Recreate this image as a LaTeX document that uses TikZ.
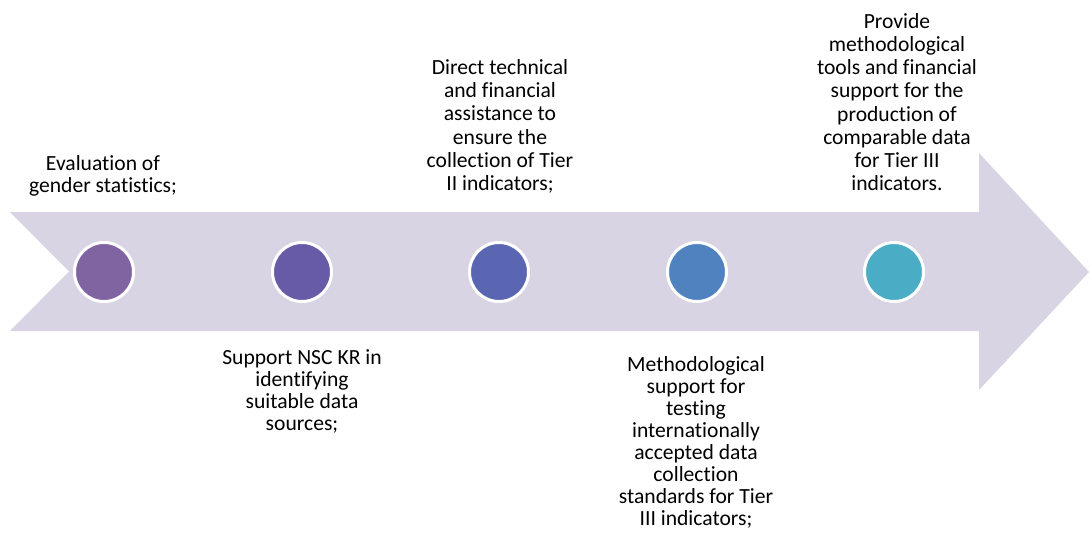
\documentclass[tikz,border=0pt]{standalone}
\usepackage{fontspec}
\setmainfont{Carlito}[Ligatures={NoCommon}]
\definecolor{arrowfill}{HTML}{D8D4E4}
\definecolor{cA}{HTML}{8064A2}
\definecolor{cB}{HTML}{675BA8}
\definecolor{cC}{HTML}{5A66B1}
\definecolor{cD}{HTML}{4F82BE}
\definecolor{cE}{HTML}{4BACC6}
\tikzset{
  dot/.style={circle, draw=white, line width=3pt, minimum size=59pt, inner sep=0pt},
  txt/.style={align=center, inner sep=0pt, text=black, font=\fontsize{21.6}{22}\selectfont},
  txtwide/.style={txt, font=\fontsize{21.6}{23.2}\selectfont},
}
\begin{document}
\begin{tikzpicture}[x=1pt,y=-1pt]
\useasboundingbox (0,0) rectangle (1089,533);
\fill[arrowfill] (10,212) -- (979,212) -- (979,153) -- (1089,272) -- (979,390) -- (979,331) -- (10,331) -- (69,271.5) -- cycle;
\node[dot, fill=cA] (c1) at (104,272) {};
\node[dot, fill=cB] (c2) at (302,272) {};
\node[dot, fill=cC] (c3) at (499,272) {};
\node[dot, fill=cD] (c4) at (697,272) {};
\node[dot, fill=cE] (c5) at (894,272) {};
\node[txt, anchor=south] (t1) at (103,199.6) {\strut Evaluation of\\gender statistics;\strut};
\node[txt, anchor=north] (t2) at (302,348.6) {\strut Support NSC KR in\\identifying\\suitable data\\sources;\strut};
\node[txtwide, anchor=south] (t3) at (500,197.6) {\strut Direct technical\\and financial\\assistance to\\ensure the\\collection of Tier\\II indicators;\strut};
\node[txt, anchor=north] (t4) at (696,355.6) {\strut Methodological\\support for\\testing\\internationally\\accepted data\\collection\\standards for Tier\\III indicators;\strut};
\node[txtwide, anchor=south] (t5) at (897,197.9) {\strut Provide\\methodological\\tools and financial\\support for the\\production of\\comparable data\\for Tier III\\indicators.\strut};
\end{tikzpicture}
\end{document}
